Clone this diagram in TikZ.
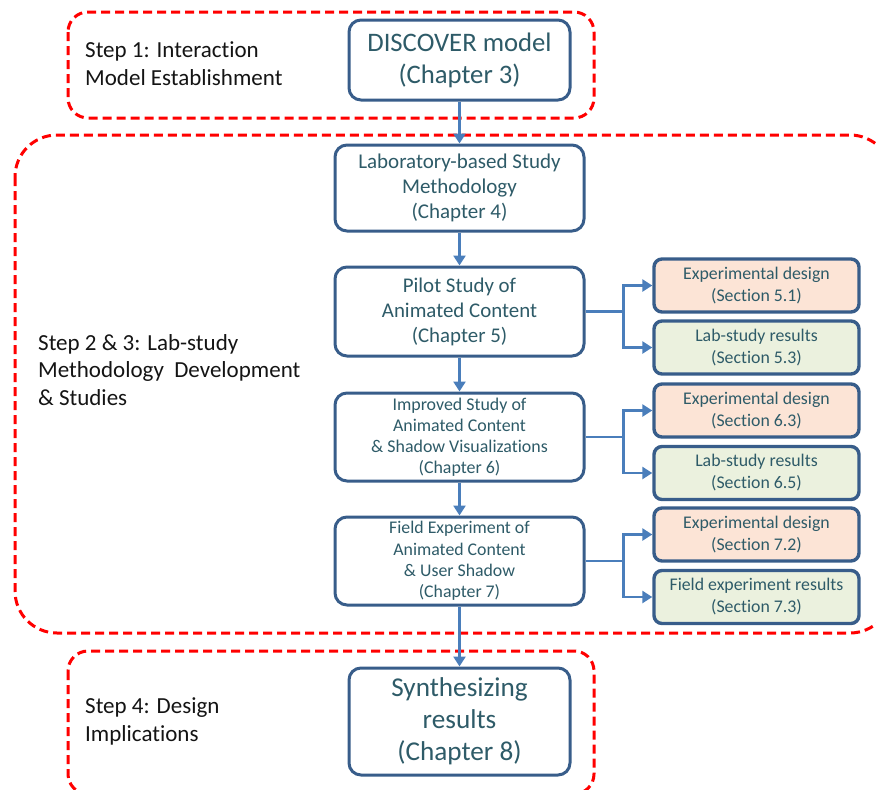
\documentclass[tikz,border=0pt]{standalone}
\usepackage{fontspec}
\setmainfont{Carlito}[Ligatures=NoCommon]
\usetikzlibrary{arrows.meta}
\definecolor{stepred}{HTML}{FF0000}
\definecolor{boxline}{HTML}{385D8A}
\definecolor{flowblue}{HTML}{4A7EBB}
\definecolor{boxtext}{HTML}{2E5B68}
\definecolor{designfill}{HTML}{FCE4D6}
\definecolor{resultfill}{HTML}{EBF1DE}
\definecolor{steptext}{HTML}{141414}
\tikzset{
  x=1pt, y=-1pt,
  stepframe/.style={draw=stepred, line width=3pt, dash pattern=on 9pt off 5pt},
  mainbox/.style={draw=boxline, line width=3pt, fill=white, rounded corners=12pt,
    align=center, text=boxtext, inner sep=0pt},
  sidebox/.style={draw=boxline, line width=3.4pt, rounded corners=8pt,
    align=center, text=boxtext, inner sep=0pt,
    minimum width=205pt, minimum height=53pt,
    font=\fontsize{17.8}{22}\selectfont},
  designbox/.style={sidebox, fill=designfill},
  resultbox/.style={sidebox, fill=resultfill},
  steplabel/.style={anchor=west, align=left, text=steptext, inner sep=0pt,
    font=\fontsize{23}{28}\selectfont},
  flow/.style={draw=flowblue, line width=3.2pt,
    -{Triangle[width=12pt,length=10pt]}},
  branch/.style={flow, line width=2.8pt},
}
\begin{document}
\begin{tikzpicture}
\useasboundingbox (0,0) rectangle (876,790);
\clip (0,0) rectangle (876,790);

% dashed step frames
\draw[stepframe, rounded corners=20pt] (68,12) rectangle (594,118);
\draw[stepframe, rounded corners=42pt] (15,135) rectangle (892,633);
\draw[stepframe, rounded corners=20pt] (68,651) rectangle (594,794);

% step labels
\node[steplabel] (s1) at (85,64) {Step 1: Interaction\\Model Establishment};
\node[steplabel, font=\fontsize{23}{27.5}\selectfont] (s23) at (38,370)
  {Step 2 \& 3: Lab-study\\Methodology~ Development\\\& Studies};
\node[steplabel] (s4) at (85,721) {Step 4: Design\\Implications};

% main chain
\node[mainbox, minimum width=221pt, minimum height=80pt,
  font=\fontsize{26.7}{32}\selectfont] (discover) at (459.5,60)
  {DISCOVER model\\(Chapter 3)};
\node[mainbox, minimum width=249pt, minimum height=86pt,
  font=\fontsize{21}{25}\selectfont] (lab) at (459.5,188)
  {Laboratory-based Study\\Methodology\\(Chapter 4)};
\node[mainbox, minimum width=249pt, minimum height=89pt,
  font=\fontsize{20.9}{25}\selectfont] (pilot) at (459.5,311.5)
  {Pilot Study of\\Animated Content\\(Chapter 5)};
\node[mainbox, minimum width=249pt, minimum height=88pt,
  font=\fontsize{17.9}{21}\selectfont] (improved) at (459.5,437)
  {Improved Study of\\Animated Content\\\& Shadow Visualizations\\(Chapter 6)};
\node[mainbox, minimum width=249pt, minimum height=88pt,
  font=\fontsize{17.8}{21.3}\selectfont] (field) at (459.5,561)
  {Field Experiment of\\Animated Content\\\& User Shadow\\(Chapter 7)};
\node[mainbox, minimum width=221pt, minimum height=107pt,
  font=\fontsize{27.2}{32}\selectfont] (synth) at (459.5,721.5)
  {Synthesizing\\results\\(Chapter 8)};

% section boxes
\node[designbox] (d51) at (756.5,285.5) {Experimental design\\(Section 5.1)};
\node[resultbox] (r53) at (756.5,347.5) {Lab-study results\\(Section 5.3)};
\node[designbox] (d63) at (756.5,410.5) {Experimental design\\(Section 6.3)};
\node[resultbox] (r65) at (756.5,473) {Lab-study results\\(Section 6.5)};
\node[designbox] (d72) at (756.5,534.5) {Experimental design\\(Section 7.2)};
\node[resultbox] (r73) at (756.5,597) {Field experiment results\\(Section 7.3)};

% chapter flow
\draw[flow] (discover) -- (lab);
\draw[flow] (lab) -- (pilot);
\draw[flow] (pilot) -- (improved);
\draw[flow] (improved) -- (field);
\draw[flow] (field) -- (synth);

% branches to sections
\foreach \src/\up/\down in {pilot/d51/r53, improved/d63/r65, field/d72/r73}{
  \draw[branch] (\src.east) -- ++(38,0) |- (\up.west);
  \draw[branch] (\src.east) -- ++(38,0) |- (\down.west);
}
\end{tikzpicture}
\end{document}
